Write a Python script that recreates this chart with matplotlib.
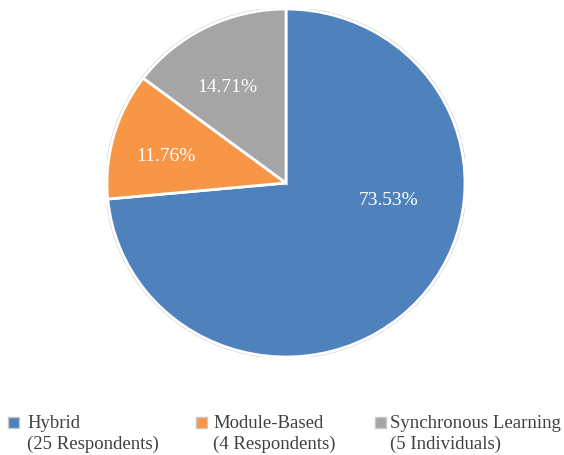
import matplotlib
matplotlib.use("Agg")
import matplotlib.pyplot as plt
from matplotlib.patches import Rectangle, Circle

# Learning modality survey
categories = ["Hybrid", "Module-Based", "Synchronous Learning"]
counts = [25, 4, 5]
count_labels = ["(25 Respondents)", "(4 Respondents)", "(5 Individuals)"]
colors = ["#4F81BD", "#F79646", "#A5A5A5"]

# label positions (in pie radius units) for the percentage text
label_pos = [(0.573, -0.10), (-0.67, 0.15), (-0.33, 0.55)]

plt.rcParams["font.family"] = ["Liberation Serif", "DejaVu Serif"]

W, H = 564, 455
fig = plt.figure(figsize=(W / 100, H / 100), dpi=100)

cx, cy, rx, ry = 286, 183, 179, 174
ax = fig.add_axes([(cx - rx) / W, 1 - (cy + ry) / H, 2 * rx / W, 2 * ry / H])
wedges, _, autotexts = ax.pie(
    counts,
    colors=colors,
    startangle=90,
    counterclock=False,
    autopct="%.2f%%",
    wedgeprops=dict(edgecolor="white", linewidth=2.0),
    textprops=dict(color="white", fontsize=14),
)
for t, (x, y) in zip(autotexts, label_pos):
    t.set_position((x, y))
    t.set_ha("center")
    t.set_va("center")
ax.add_patch(Circle((0, 0), 1.008, facecolor="none", edgecolor="#D0D0D0",
                    linewidth=0.8, zorder=0))
ax.set_xlim(-1.0, 1.0)
ax.set_ylim(-1.0, 1.0)
ax.set_aspect("auto")
ax.axis("off")

# legend drawn below the pie
marker_x = [8, 196, 375]
text_x = [27, 213, 390]
row1_base, row2_base = 428, 449
box = 11
for mx, tx, name, extra, col in zip(marker_x, text_x, categories, count_labels, colors):
    fig.patches.append(Rectangle((mx / W, 1 - 428 / H), box / W, box / H,
                                 transform=fig.transFigure, facecolor=col,
                                 edgecolor="#C8C8C8", linewidth=1.0))
    fig.text(tx / W, 1 - row1_base / H, name, fontsize=13.5,
             color="#404040", ha="left", va="baseline")
    fig.text(tx / W, 1 - row2_base / H, extra, fontsize=13.5,
             color="#404040", ha="left", va="baseline")

fig.savefig("out.png", dpi=100, facecolor="white")
